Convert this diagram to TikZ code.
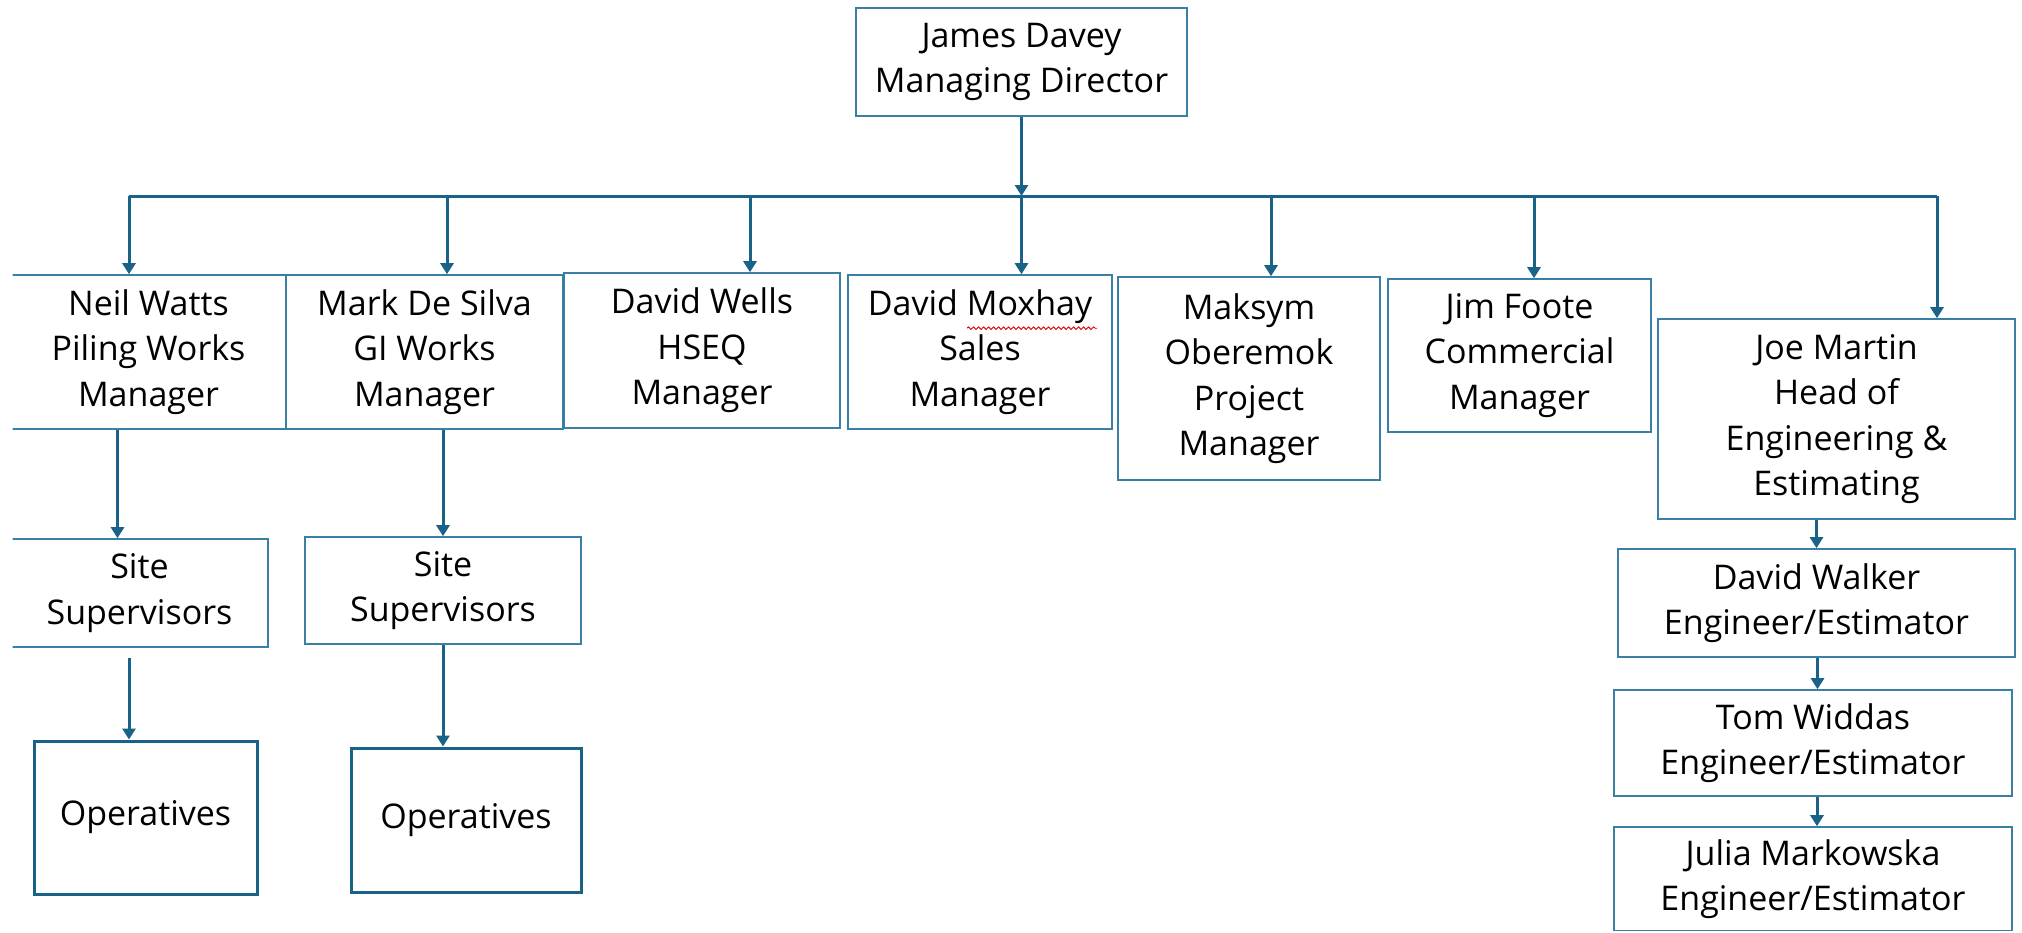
\documentclass[tikz,border=0pt]{standalone}
\usepackage{fontspec}
\setmainfont{Open Sans}
\usetikzlibrary{arrows.meta,decorations.pathmorphing}
\definecolor{conn}{HTML}{1A6388}
\definecolor{bord}{HTML}{3A7FA6}
\begin{document}
\begin{tikzpicture}[x=1pt,y=-1pt,
  every node/.style={font=\fontsize{34}{45.5}\selectfont, align=center, inner sep=0pt},
  pbox/.style={draw=bord, line width=1.6pt, rectangle},
  obox/.style={draw=conn, line width=3pt, rectangle},
  cline/.style={draw=conn, line width=3pt},
  arr/.style={cline, -{Triangle[width=13pt,length=11pt]}},
  squig/.style={draw=red!85!black, line width=0.9pt, decorate, decoration={snake, amplitude=1.3pt, segment length=5pt}}]
\useasboundingbox (0,0) rectangle (2022,932);
\clip (12.5,0) rectangle (2022,930);
% nodes
\node[pbox, minimum width=331, minimum height=108] (james) at (1021.5,62) {James Davey\\Managing Director};
\node[pbox, minimum width=275, minimum height=154] (neil) at (148.5,352) {Neil Watts\\Piling Works\\Manager};
\node[pbox, minimum width=277, minimum height=154] (mark) at (424.5,352) {Mark De Silva\\GI Works\\Manager};
\node[pbox, minimum width=276, minimum height=155] (wells) at (702,350.5) {David Wells\\HSEQ\\Manager};
\node[pbox, minimum width=264, minimum height=154] (moxhay) at (980,352) {David Moxhay\\Sales\\Manager};
\node[pbox, minimum width=262, minimum height=203] (maksym) at (1249,378.5) {Maksym\\Oberemok\\Project\\Manager};
\node[pbox, minimum width=263, minimum height=153] (jim) at (1519.5,355.5) {Jim Foote\\Commercial\\Manager};
\node[pbox, minimum width=357, minimum height=200] (joe) at (1836.5,419) {Joe Martin\\Head of\\Engineering \&\\Estimating};
\node[pbox, minimum width=397, minimum height=108] (walker) at (1816.5,603) {David Walker\\Engineer/Estimator};
\node[pbox, minimum width=398, minimum height=106] (tom) at (1813,743) {Tom Widdas\\Engineer/Estimator};
\node[pbox, minimum width=398, minimum height=104] (julia) at (1813,879) {Julia Markowska\\Engineer/Estimator};
\node[pbox, minimum width=257, minimum height=108] (ss1) at (139.5,593) {Site\\Supervisors};
\node[pbox, minimum width=276, minimum height=107] (ss2) at (443,590.5) {Site\\Supervisors};
\node[obox, minimum width=223, minimum height=153] (op1) at (145.5,817.5) {Operatives};
\node[obox, minimum width=230, minimum height=144] (op2) at (466,820) {Operatives};
% bus
\coordinate (bl) at (129,196);
\coordinate (br) at (1937,196);
\draw[cline] (bl) -- (br);
% connectors
\draw[arr] (james.south) -- (james.south |- bl);
\draw[arr] (james.south |- bl) -- (james.south |- moxhay.north);
\draw[arr] (bl) -- (bl |- neil.north);
\draw[arr] ([xshift=22.5]mark.north |- bl) -- ([xshift=22.5]mark.north);
\draw[arr] ([xshift=48]wells.north |- bl) -- ([xshift=48]wells.north);
\draw[arr] ([xshift=22]maksym.north |- bl) -- ([xshift=22]maksym.north);
\draw[arr] ([xshift=14.5]jim.north |- bl) -- ([xshift=14.5]jim.north);
\draw[arr] (br) -- (br |- joe.north);
\draw[arr] ([xshift=-31]neil.south) -- ([xshift=-31]neil.south |- ss1.north);
\draw[arr, shorten <=10pt] ([xshift=-16.5]op1.north |- ss1.south) -- ([xshift=-16.5]op1.north);
\draw[arr] (ss2.north |- mark.south) -- (ss2.north);
\draw[arr] (ss2.south) -- (ss2.south |- op2.north);
\draw[arr] (walker.north |- joe.south) -- (walker.north);
\draw[arr] ([xshift=1]walker.south) -- ([xshift=1]walker.south |- tom.north);
\draw[arr] ([xshift=4]tom.south) -- ([xshift=4]tom.south |- julia.north);
% spell-check underline
\coordinate (sqa) at ([xshift=-13,yshift=-54]moxhay.north);
\coordinate (sqb) at ([xshift=117,yshift=-54]moxhay.north);
\draw[squig] (sqa) -- (sqb);
\end{tikzpicture}
\end{document}
